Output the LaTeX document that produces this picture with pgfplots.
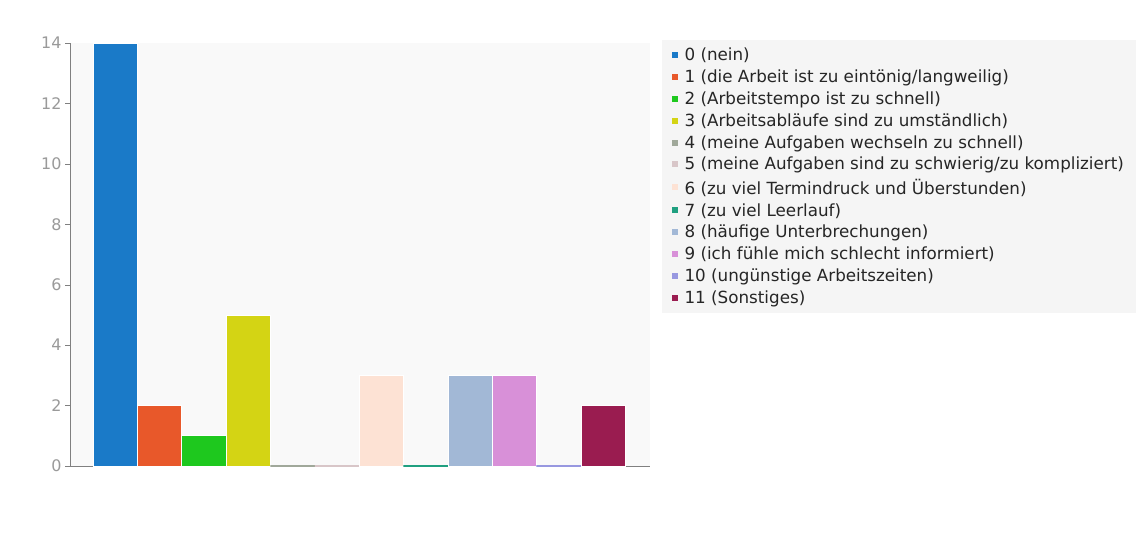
\documentclass[border=0pt]{standalone}
\usepackage{pgfplots}
\pgfplotsset{compat=1.18}
\usepackage{fontspec}
\setmainfont{DejaVu Sans}
\definecolor{c0}{HTML}{1A7AC8}
\definecolor{c1}{HTML}{E8582A}
\definecolor{c2}{HTML}{1EC81E}
\definecolor{c3}{HTML}{D4D414}
\definecolor{c4}{HTML}{A0A89A}
\definecolor{c5}{HTML}{D8C6C8}
\definecolor{c6}{HTML}{FDE2D4}
\definecolor{c7}{HTML}{20A080}
\definecolor{c8}{HTML}{A2B8D6}
\definecolor{c9}{HTML}{D890D8}
\definecolor{c10}{HTML}{9898E0}
\definecolor{c11}{HTML}{9A1C50}
\definecolor{tickgray}{HTML}{9A9A9A}
\definecolor{plotbg}{HTML}{F9F9F9}
\definecolor{legbg}{HTML}{F5F5F5}
\begin{document}
\begin{tikzpicture}
\path[use as bounding box, fill=white] (0bp,0bp) rectangle (1146bp,537bp);
\begin{axis}[
  at={(70bp,71bp)}, anchor=south west,
  width=580bp, height=423bp, scale only axis,
  xmin=-1.02, xmax=12.06, ymin=0, ymax=14,
  ytick={0,2,...,14}, xtick=\empty,
  axis background/.style={fill=plotbg},
  axis line style={draw=black!12},
  y axis line style={draw=gray},
  x axis line style={draw=gray},
  separate axis lines,
  axis x line*=bottom, axis y line*=left,
  ytick style={draw=gray},
  tick align=outside, major tick length=5bp,
  tick label style={font=\fontsize{16}{16}\selectfont, text=tickgray},
  /pgf/number format/assume math mode=true,
  clip=false,
  ybar, bar width=1, bar shift=0pt,
  legend style={at={(1.02,1.007)}, anchor=north west, fill=legbg, draw=none,
    font=\fontsize{16.8}{16.8}\selectfont, text=black!85, row sep=3.6bp,
    inner xsep=10bp, inner ysep=6bp},
  legend cell align=left,
  legend image code/.code={\fill[#1,draw=none] (0bp,-3bp) rectangle (6bp,3bp); \path (10bp,0bp);},
]
\addplot[fill=c0, draw=white, line width=0.6bp] coordinates {(0,14)};
\addplot[fill=c1, draw=white, line width=0.6bp] coordinates {(1,2)};
\addplot[fill=c2, draw=white, line width=0.6bp] coordinates {(2,1)};
\addplot[fill=c3, draw=white, line width=0.6bp] coordinates {(3,5)};
\addplot[fill=c4, draw=c4, line width=1.6bp] coordinates {(4,0)};
\addplot[fill=c5, draw=c5, line width=1.6bp] coordinates {(5,0)};
\addplot[fill=c6, draw=white, line width=0.6bp] coordinates {(6,3)};
\addplot[fill=c7, draw=c7, line width=1.6bp] coordinates {(7,0)};
\addplot[fill=c8, draw=white, line width=0.6bp] coordinates {(8,3)};
\addplot[fill=c9, draw=white, line width=0.6bp] coordinates {(9,3)};
\addplot[fill=c10, draw=c10, line width=1.6bp] coordinates {(10,0)};
\addplot[fill=c11, draw=white, line width=0.6bp] coordinates {(11,2)};
\legend{0 (nein),
1 (die Arbeit ist zu eintönig/langweilig),
2 (Arbeitstempo ist zu schnell),
3 (Arbeitsabläufe sind zu umständlich),
4 (meine Aufgaben wechseln zu schnell),
5 (meine Aufgaben sind zu schwierig/zu kompliziert),
6 (zu viel Termindruck und Überstunden),
7 (zu viel Leerlauf),
8 (häufige Unterbrechungen),
9 (ich fühle mich schlecht informiert),
10 (ungünstige Arbeitszeiten),
11 (Sonstiges)}
\end{axis}
\end{tikzpicture}
\end{document}
